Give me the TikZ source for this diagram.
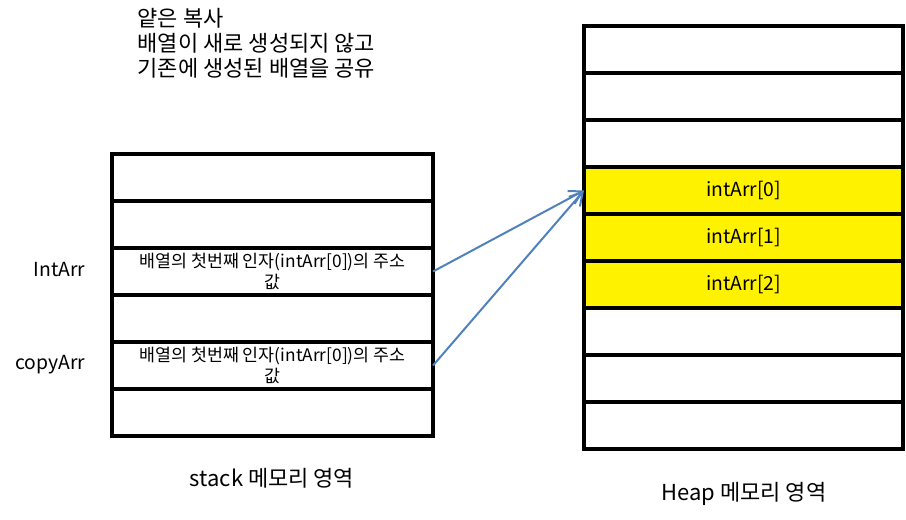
\documentclass[tikz,border=0pt]{standalone}
\usepackage{fontspec}
\setmainfont{Noto Sans CJK KR}
\usepackage{xcolor}
\usepackage{tikz}
\usetikzlibrary{arrows.meta, positioning}

\definecolor{arrowblue}{RGB}{79,129,189}

\begin{document}
\begin{tikzpicture}[x=0.75pt, y=-0.75pt]
        % --- estilos ---
        \tikzstyle{cell} = [
            rectangle,
            minimum width=240.75pt,
            minimum height=35.25pt,
            inner sep=0pt,
            outer sep=0pt,
            align=center,
            draw=black,
            line width=3pt,
            font=\fontsize{13}{15.5}\selectfont
        ]
        \tikzstyle{heapcell} = [cell, minimum width=239.25pt, font=\fontsize{14.5}{17}\selectfont]
        \tikzstyle{used} = [fill=yellow]
        \tikzstyle{label} = [font=\fontsize{14.5}{17}\selectfont]
        \tikzstyle{region} = [font=\fontsize{16.5}{19}\selectfont]
        \tikzstyle{arrow} = [line width=1.5pt, arrowblue, -{Straight Barb[angle=60:11pt]}]

        \useasboundingbox (0,0) rectangle (906,519);

        % --- texto ---
        \node (title) [anchor=west, align=left, font=\fontsize{16.5}{18.75}\selectfont] at (133,43)
            {얕은 복사\\배열이 새로 생성되지 않고\\기존에 생성된 배열을 공유};

        % --- stack ---
        \node (s1) [cell] at (272.5,177.5) {};
        \node (s2) [cell, below=0pt of s1] {};
        \node (s3) [cell, below=0pt of s2] {배열의 첫번째 인자(intArr[0])의 주소\\값};
        \node (s4) [cell, below=0pt of s3] {};
        \node (s5) [cell, below=0pt of s4] {배열의 첫번째 인자(intArr[0])의 주소\\값};
        \node (s6) [cell, below=0pt of s5] {};
        \node (stack) [region] at (272,478) {stack 메모리 영역};

        \node (intarr) [label, anchor=east] at (90,270) {IntArr};
        \node (copyarr) [label, anchor=east] at (90,365) {copyArr};

        % --- heap ---
        \node (h1) [heapcell] at (743.5,49.5) {};
        \node (h2) [heapcell, below=0pt of h1] {};
        \node (h3) [heapcell, below=0pt of h2] {};
        \node (h4) [heapcell, used, below=0pt of h3] {intArr[0]};
        \node (h5) [heapcell, used, below=0pt of h4] {intArr[1]};
        \node (h6) [heapcell, used, below=0pt of h5] {intArr[2]};
        \node (h7) [heapcell, below=0pt of h6] {};
        \node (h8) [heapcell, below=0pt of h7] {};
        \node (h9) [heapcell, below=0pt of h8] {};
        \node (heap) [region] at (744,494) {Heap 메모리 영역};

        % --- conexões ---
        \draw [arrow] (s3.east) -- (h4.west);
        \draw [arrow] (s5.east) -- (h4.west);
    \end{tikzpicture}
\end{document}
